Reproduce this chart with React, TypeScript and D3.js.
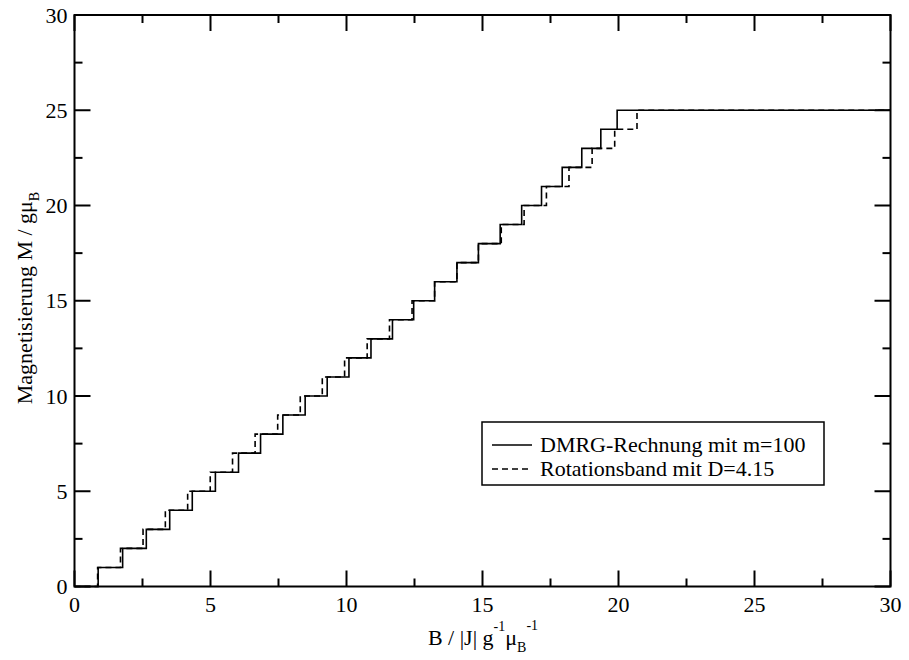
import React from "react";
import * as d3 from "d3";

const dmrgSteps = [0.87, 1.77, 2.64, 3.5, 4.33, 5.18, 6.03, 6.84, 7.66, 8.48, 9.29, 10.09, 10.9, 11.69, 12.47, 13.24, 14.06, 14.85, 15.65, 16.44, 17.17, 17.93, 18.65, 19.35, 19.95];
const rotSteps = [0.85, 1.69, 2.52, 3.34, 4.16, 4.99, 5.81, 6.64, 7.47, 8.3, 9.11, 9.93, 10.76, 11.58, 12.41, 13.24, 14.06, 14.85, 15.69, 16.53, 17.35, 18.18, 19.03, 19.86, 20.68];
const majorTicks = [0, 5, 10, 15, 20, 25, 30];
const minorTicks = [2.5, 7.5, 12.5, 17.5, 22.5, 27.5];
const legendLabels = ["DMRG-Rechnung mit m=100", "Rotationsband mit D=4.15"];

const W = 909, H = 660;
const L = 74.5, R = 890.5, T = 15, B = 586.5;
const FONT = "'Liberation Serif', 'Times New Roman', 'DejaVu Serif', serif";

function stepPoints(steps: number[]): [number, number][] {
  const pts: [number, number][] = [[0, 0]];
  steps.forEach((b, i) => pts.push([b, i + 1]));
  pts.push([30, steps.length]);
  return pts;
}

export default function App() {
  const x = d3.scaleLinear().domain([0, 30]).range([L, R]);
  const y = d3.scaleLinear().domain([0, 30]).range([B, T]);
  const line = d3.line<[number, number]>().x(d => x(d[0])).y(d => y(d[1])).curve(d3.curveStepAfter);

  const ticks: any[] = [];
  const addTicks = (vals: number[], len: number, key: string) => {
    vals.forEach(v => {
      ticks.push(<line key={`${key}b${v}`} x1={x(v)} x2={x(v)} y1={B} y2={B - len} />);
      ticks.push(<line key={`${key}t${v}`} x1={x(v)} x2={x(v)} y1={T} y2={T + len} />);
      ticks.push(<line key={`${key}l${v}`} x1={L} x2={L + len} y1={y(v)} y2={y(v)} />);
      ticks.push(<line key={`${key}r${v}`} x1={R} x2={R - len} y1={y(v)} y2={y(v)} />);
    });
  };
  addTicks(majorTicks, 16, "M");
  addTicks(minorTicks, 8, "m");

  const lgX = 482, lgY = 422, lgW = 342, lgH = 63;
  const ts = { fontFamily: FONT };

  return (
    <svg width={W} height={H} style={{ position: "absolute", left: 0, top: 0, background: "#fff" }} fontFamily={FONT}>
      <rect x={0} y={0} width={W} height={H} fill="#fff" />
      <path d={line(stepPoints(rotSteps)) || ""} fill="none" stroke="#000" strokeWidth={1.6} strokeDasharray="6,4" />
      <path d={line(stepPoints(dmrgSteps)) || ""} fill="none" stroke="#000" strokeWidth={1.6} />
      <g stroke="#000" strokeWidth={2}>{ticks}</g>
      <rect x={L} y={T} width={R - L} height={B - T} fill="none" stroke="#000" strokeWidth={2} />
      <g fontSize={22} fill="#000">
        {majorTicks.map(v => (
          <text key={`xl${v}`} style={ts} x={x(v)} y={B + 25} textAnchor="middle">{v}</text>
        ))}
        {majorTicks.map(v => (
          <text key={`yl${v}`} style={ts} x={L - 7} y={y(v) + 7.5} textAnchor="end">{v}</text>
        ))}
      </g>
      <text style={ts} x={483} y={645} fontSize={22} textAnchor="middle" fill="#000">
        B / |J| g<tspan fontSize={14} dy={-14}>-1</tspan><tspan dy={14}>μ</tspan><tspan fontSize={14} dy={7}>B</tspan><tspan fontSize={14} dy={-22}>-1</tspan>
      </text>
      <text style={ts} transform={`translate(32,298) rotate(-90)`} fontSize={22} textAnchor="middle" fill="#000">
        Magnetisierung M / gμ<tspan fontSize={14} dy={7}>B</tspan>
      </text>
      <rect x={lgX} y={lgY} width={lgW} height={lgH} fill="#fff" stroke="#000" strokeWidth={1.5} />
      <line x1={lgX + 10} x2={lgX + 50} y1={lgY + 23} y2={lgY + 23} stroke="#000" strokeWidth={1.6} />
      <line x1={lgX + 10} x2={lgX + 50} y1={lgY + 47} y2={lgY + 47} stroke="#000" strokeWidth={1.6} strokeDasharray="6,4" />
      <text style={ts} x={lgX + 58} y={lgY + 30} fontSize={22} fill="#000">{legendLabels[0]}</text>
      <text style={ts} x={lgX + 58} y={lgY + 54} fontSize={22} fill="#000">{legendLabels[1]}</text>
    </svg>
  );
}
